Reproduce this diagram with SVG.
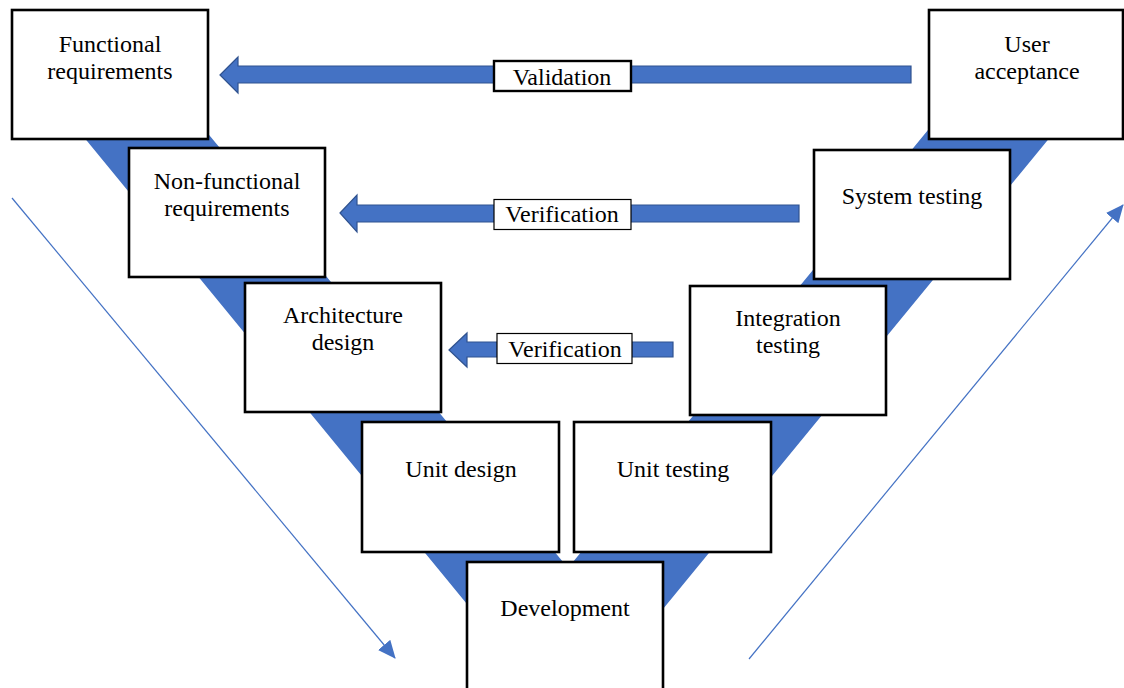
<svg xmlns="http://www.w3.org/2000/svg" width="1124" height="688" viewBox="0 0 1124 688">
  <style>
    .box { fill: #ffffff; stroke: #000000; stroke-width: 2.6; }
    .lbl { font-family: "Liberation Serif", "Times New Roman", serif; font-size: 24px; fill: #000000; text-anchor: middle; }
    .tag { fill: #ffffff; stroke: #000000; }
    .block { fill: #4472C4; stroke: #2F528F; stroke-width: 1.2; }
    .band { fill: #4472C4; }
    .thin { stroke: #4472C4; stroke-width: 1.2; fill: none; }
  </style>
  <defs>
    <marker id="tri" markerUnits="userSpaceOnUse" markerWidth="18" markerHeight="16" viewBox="0 0 18 16" refX="17" refY="8" orient="auto">
      <path d="M0,0 L18,8 L0,16 Z" fill="#4472C4"/>
    </marker>
  </defs>

  <rect width="1124" height="688" fill="#ffffff"/>

  <!-- the V backdrop -->
  <polygon class="band" points="78,130 205,130 568,568 928,130 1056,130 567,726"/>

  <!-- connectors: process direction arrows and feedback block arrows -->
  <g id="connectors">
    <line class="thin" x1="12" y1="198" x2="395" y2="658" marker-end="url(#tri)"/>
    <line class="thin" x1="749" y1="659" x2="1123" y2="205" marker-end="url(#tri)"/>

    <path class="block" d="M220,75 L238,57 L238,66 L911,66 L911,83 L238,83 L238,93 Z"/>
    <path class="block" d="M340,213 L357,195 L357,205 L799,205 L799,222 L357,222 L357,232 Z"/>
    <path class="block" d="M449,350 L467,333 L467,342 L673,342 L673,357 L467,357 L467,367 Z"/>

    <g id="tag-validation">
      <rect class="tag" x="494" y="61" width="137" height="30" stroke-width="2.4"/>
      <text class="lbl" x="562" y="85">Validation</text>
    </g>
    <g id="tag-verification-1">
      <rect class="tag" x="494" y="199.5" width="137" height="30" stroke-width="1.2"/>
      <text class="lbl" x="562" y="222">Verification</text>
    </g>
    <g id="tag-verification-2">
      <rect class="tag" x="497" y="333.5" width="135" height="30" stroke-width="1.2"/>
      <text class="lbl" x="565" y="357">Verification</text>
    </g>
  </g>

  <g id="functional-requirements">
    <rect class="box" x="12" y="10" width="196" height="129"/>
    <text class="lbl" x="110" y="52">Functional</text>
    <text class="lbl" x="110" y="79">requirements</text>
  </g>

  <g id="user-acceptance">
    <rect class="box" x="929" y="10" width="194" height="129"/>
    <text class="lbl" x="1027" y="52">User</text>
    <text class="lbl" x="1027" y="79">acceptance</text>
  </g>

  <g id="non-functional-requirements">
    <rect class="box" x="129" y="148" width="196" height="129"/>
    <text class="lbl" x="227" y="189">Non-functional</text>
    <text class="lbl" x="227" y="216">requirements</text>
  </g>

  <g id="system-testing">
    <rect class="box" x="814" y="150" width="196" height="129"/>
    <text class="lbl" x="912" y="204">System testing</text>
  </g>

  <g id="architecture-design">
    <rect class="box" x="245" y="283" width="196" height="129"/>
    <text class="lbl" x="343" y="323">Architecture</text>
    <text class="lbl" x="343" y="350">design</text>
  </g>

  <g id="integration-testing">
    <rect class="box" x="690" y="286" width="196" height="129"/>
    <text class="lbl" x="788" y="326">Integration</text>
    <text class="lbl" x="788" y="353">testing</text>
  </g>

  <g id="unit-design">
    <rect class="box" x="362" y="422" width="197" height="130"/>
    <text class="lbl" x="461" y="477">Unit design</text>
  </g>

  <g id="unit-testing">
    <rect class="box" x="574" y="422" width="197" height="130"/>
    <text class="lbl" x="673" y="477">Unit testing</text>
  </g>

  <g id="development">
    <rect class="box" x="467" y="562" width="196" height="140"/>
    <text class="lbl" x="565" y="616">Development</text>
  </g>
</svg>
